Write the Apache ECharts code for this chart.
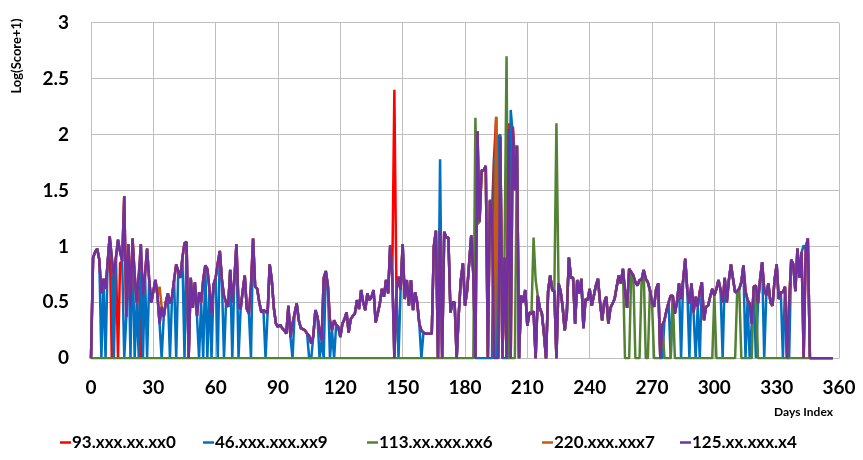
<!DOCTYPE html>
<html><head><meta charset="utf-8">
<script src="https://cdn.jsdelivr.net/npm/echarts@6/dist/echarts.min.js"></script>
<style>html,body{margin:0;padding:0;background:#fff}#c{width:863px;height:460px}</style>
</head><body><div id="c"></div>
<script>
const seriesNames = ['93.xxx.xx.xx0','46.xxx.xxx.xx9','113.xx.xxx.xx6','220.xxx.xxx7','125.xx.xxx.x4'];
const seriesColors = ['#FF0000','#0070C0','#548235','#C55A11','#7030A0'];
const yTitle = 'Log(Score+1)';
const xTitle = 'Days Index';

// daily values, day 0 .. 357
const ip93 = [
0,0.9,0.95,0.98,0.88,0.58,0.71,0.62,0.85,1.09,
0,0.74,0.9,0,0.85,0.87,1.45,0.37,1.02,0.46,
1.07,0.75,0.5,0.75,0,0.56,0.75,0.98,0.7,0.5,
0.6,0.7,0.56,0.31,0.46,0.37,0.5,0.58,0.49,0.55,
0.7,0.84,0.78,0.72,0.9,1.03,1.04,0,0.72,0.45,
0.68,0.38,0.59,0.5,0.7,0.83,0.8,0.62,0.4,0.66,
0.72,0.85,0.96,0.7,0.56,0.5,0.46,0.79,0.5,0.7,
1.02,0.47,0.44,0.6,0.74,0.44,0.4,0.65,1.07,0.64,
0.62,0.5,0.41,0.43,0.42,0.4,0.84,0.7,0.45,0.31,
0.28,0.3,0.27,0.25,0.22,0.47,0.19,0.31,0.4,0.49,
0.34,0.27,0.26,0.25,0.22,0.2,0.13,0.2,0.43,0.37,
0.25,0.16,0.72,0.78,0.65,0.34,0.25,0.34,0.3,0.28,
0.19,0.31,0.35,0.41,0.23,0.35,0.38,0.4,0.52,0.44,
0.61,0.5,0.43,0.58,0.52,0.55,0.61,0.32,0.4,0.49,
0.62,0.55,0.7,0.58,1.01,0.74,2.4,0.6,0.73,0.61,
1.02,0.53,0.7,0.47,0.7,0.43,0.59,0.5,0.31,0.25,
0.23,0.22,0.22,0.22,0.22,1.0,1.14,0,1.14,0,
1.13,1.08,1.08,0.41,0.5,0.5,0,0.4,0.7,0.85,
0.47,0.6,0.85,1.1,0.75,0,2.03,1.22,1.68,1.68,
1.72,0,1.41,1.32,1.8,2.15,0,1.98,0,0.9,
0,2.1,0,2.07,1.8,1.9,0,0.56,0.5,0.61,
0.29,0.41,0.4,0.42,0,0.56,0.45,0.4,0.22,0,
0.6,0.74,0.61,0.6,0,0.67,0.6,0.46,0.25,0.4,
0.9,0.72,0.72,0.31,0.7,0.58,0.71,0.27,0.53,0.52,
0.62,0.47,0.56,0.65,0.71,0.5,0.34,0.5,0.55,0.31,
0.45,0.49,0.53,0.64,0.74,0.67,0.8,0.6,0.45,0.8,
0.77,0.74,0.68,0.65,0.7,0.7,0.79,0.71,0.68,0.61,
0.5,0.46,0.62,0.67,0,0.3,0.34,0.43,0.5,0.56,
0.56,0.4,0.5,0.67,0.53,0.7,0.89,0.6,0.49,0.67,
0.41,0.55,0.46,0.6,0.68,0.34,0.46,0.47,0.55,0.62,
0.56,0.62,0.7,0.61,0.5,0.72,0.5,0.7,0.84,0.71,
0.59,0.6,0.62,0.68,0.83,0.6,0.52,0.49,0.31,0.64,
0.65,0.49,0.7,0.86,0.62,0.56,0.67,0.5,0.47,0.7,
0.84,0.53,0.59,0.59,0.64,0,0.5,0.88,0.84,0.6,
0.98,0.72,0.95,0,0.98,1.07,0,0,0,0,
0,0,0,0,0,0,0,0];

const ip46 = [
0,0.9,0.95,0.98,0.88,0,0.71,0,0.85,1.09,
0.9,0,0.9,1.06,0.95,0.87,0,0.37,1.02,0,
1.07,0,0.5,0,1.02,0,0.75,0,0.7,0.5,
0.6,0.7,0.56,0.31,0,0.37,0.5,0.58,0,0.55,
0.7,0,0.78,0.72,0.9,0,1.04,0,0.72,0.45,
0.68,0.38,0,0.5,0,0.83,0,0.62,0,0.66,
0.72,0,0.96,0.7,0,0.5,0.46,0.79,0,0.7,
1.02,0,0.44,0.6,0.74,0.44,0.4,0,1.07,0.64,
0.62,0.5,0.41,0.43,0,0.4,0.84,0.7,0.45,0.31,
0.28,0.3,0.27,0.25,0.22,0.47,0.19,0,0.4,0.49,
0.34,0.27,0.26,0.25,0.22,0,0,0.2,0.43,0.37,
0,0.16,0,0.78,0.65,0,0.25,0,0.3,0.28,
0.19,0.31,0.35,0.41,0.23,0.35,0.38,0.4,0.52,0.44,
0.61,0.5,0.43,0.58,0.52,0.55,0.61,0.32,0.4,0.49,
0.62,0.55,0.7,0.58,1.01,0.74,0,0.6,0,0.61,
1.02,0.53,0.7,0.47,0.7,0.43,0.59,0.5,0.31,0,
0.23,0.22,0.22,0.22,0.22,1.0,1.14,0,1.78,0,
1.13,1.08,1.08,0.41,0.5,0.5,0,0.4,0.7,0.85,
0.47,0.6,0.85,1.1,0.75,0,0,0,0,0,
0,0,0,0,1.8,0,1.98,2.0,0,0,
0,0,2.22,2.0,1.8,1.9,0,0.56,0.5,0.61,
0.29,0.41,0.4,0.42,0,0.56,0.45,0.4,0.22,0,
0.6,0.74,0.61,0.6,0,0.67,0.6,0.46,0.25,0.4,
0.9,0.72,0.72,0.31,0.7,0.58,0.71,0.27,0.53,0.52,
0.62,0.47,0.56,0.65,0.71,0.5,0.34,0.5,0.55,0.31,
0.45,0.49,0.53,0.64,0.74,0.67,0.8,0.6,0.45,0.8,
0.77,0.74,0.68,0.65,0.7,0.7,0.79,0.71,0.68,0.61,
0.5,0.46,0.62,0.67,0,0,0.34,0.43,0.5,0,
0.56,0.4,0.5,0.67,0,0.7,0.89,0.6,0,0.67,
0.41,0,0.46,0,0.68,0.34,0.46,0.47,0.55,0.62,
0.56,0.62,0.7,0.61,0,0.72,0.5,0.7,0.84,0.71,
0.59,0.6,0.62,0.68,0.83,0,0.52,0,0.31,0.64,
0,0.49,0.7,0.86,0,0.56,0.67,0.5,0.47,0.7,
0.84,0.53,0.59,0,0.64,0,0,0.88,0.84,0.6,
0.98,0.72,0.95,1.01,0.98,1.07,0,0,0,0,
0,0,0,0,0,0,0,0];

const ip113 = [
0,0,0,0,0,0,0,0,0,0,
0,0,0,0,0,0,0,0,0,0,
0,0,0,0,0,0,0,0,0,0,
0,0,0,0,0,0,0,0,0,0,
0,0,0,0,0,0,0,0,0,0,
0,0,0,0,0,0,0,0,0,0,
0,0,0,0,0,0,0,0,0,0,
0,0,0,0,0,0,0,0,0,0,
0,0,0,0,0,0,0,0,0,0,
0,0,0,0,0,0,0,0,0,0,
0,0,0,0,0,0,0,0,0,0,
0,0,0,0,0,0,0,0,0,0,
0,0,0,0,0,0,0,0,0,0,
0,0,0,0,0,0,0,0,0,0,
0,0,0,0,0,0,0,0,0,0,
0,0,0,0,0,0,0,0,0,0,
0,0,0,0,0,0,0,0,0,0,
0,0,0,0,0,0,0,0,0,0,
0,0,0,0,0,2.15,1.2,1.22,1.68,1.68,
1.72,0,1.42,1.32,0,2.16,0,1.98,0,0.9,
2.7,0,0,0,0,1.9,0,0.56,0.5,0.61,
0.29,0.41,0.4,1.08,0.7,0.56,0.45,0.4,0.22,0,
0.6,0.74,0.61,0.6,2.1,0.67,0.6,0.46,0.25,0.4,
0.9,0.72,0.72,0.31,0.7,0.58,0.71,0.27,0.53,0.52,
0.62,0.47,0.56,0.65,0.71,0.5,0.34,0.5,0.55,0.31,
0.45,0.49,0.53,0.64,0.74,0.67,0.8,0,0,0,
0.77,0.74,0,0,0,0.7,0.79,0,0,0.61,
0.5,0,0,0,0,0.3,0,0,0,0,
0.56,0,0,0,0,0,0,0,0,0,
0,0,0,0,0,0,0,0,0,0,
0.56,0,0,0,0,0,0,0,0,0,
0,0.6,0.62,0,0,0,0,0,0,0.64,
0.65,0,0,0,0,0,0,0,0,0,
0,0,0,0,0,0,0,0,0,0,
0,0,0,0,0,0,0,0,0,0,
0,0,0,0,0,0,0,0];

const ip220 = [
0,0.9,0.95,0.98,0.88,0.58,0.71,0.62,0.85,1.09,
0.9,0.74,0.9,1.06,0.95,0.87,1.45,0.37,1.02,0.46,
1.07,0.75,0.5,0.75,1.02,0.56,0.75,0.98,0.7,0.52,
0.6,0.7,0.56,0.64,0.46,0.37,0.5,0.58,0.49,0.55,
0.7,0.84,0.78,0.72,0.9,1.03,1.04,0,0.72,0.45,
0.68,0.38,0.59,0.5,0.7,0.83,0.8,0.62,0.4,0.66,
0.72,0.85,0.96,0.7,0.56,0.5,0.46,0.79,0.5,0.7,
1.02,0.47,0.44,0.6,0.74,0.44,0.4,0.65,1.07,0.64,
0.62,0.5,0.41,0.43,0.42,0.4,0.84,0.7,0.45,0.31,
0.28,0.3,0.27,0.25,0.22,0.47,0.19,0.31,0.4,0.49,
0.34,0.27,0.26,0.25,0.22,0.2,0.13,0.2,0.43,0.37,
0.25,0.16,0.72,0.78,0.65,0.34,0.25,0.34,0.3,0.28,
0.19,0.31,0.35,0.41,0.23,0.35,0.38,0.4,0.52,0.44,
0.61,0.5,0.43,0.58,0.52,0.55,0.61,0.32,0.4,0.49,
0.62,0.55,0.7,0.58,1.01,0.74,0,0.6,0.73,0.61,
1.02,0.53,0.7,0.47,0.7,0.43,0.59,0.5,0.31,0.25,
0.23,0.22,0.22,0.22,0.22,1.0,1.14,0,1.14,0,
1.13,1.08,1.08,0.41,0.5,0.5,0,0.4,0.7,0.85,
0.47,0.6,0.85,1.1,0.75,0,2.03,1.22,1.68,1.68,
1.72,0,1.41,1.32,0,2.16,0,1.98,0,0.9,
0,2.05,0,2.07,1.5,1.9,0,0.56,0.5,0.61,
0.29,0.41,0.4,0.42,0,0.56,0.45,0.4,0.22,0,
0.6,0.74,0.61,0.6,0,0.67,0.6,0.46,0.25,0.4,
0.9,0.72,0.72,0.31,0.7,0.58,0.71,0.27,0.53,0.52,
0.62,0.47,0.56,0.65,0.71,0.5,0.34,0.5,0.55,0.31,
0.45,0.49,0.53,0.64,0.74,0.67,0.8,0.6,0.45,0.8,
0.77,0.74,0.68,0.65,0.7,0.7,0.79,0.71,0.68,0.61,
0.5,0.46,0.62,0.67,0,0.3,0.34,0.43,0.5,0.56,
0.56,0.4,0.5,0.67,0.53,0.7,0.89,0.6,0.49,0.67,
0.41,0.55,0.46,0.6,0.68,0.34,0.46,0.47,0.55,0.62,
0.56,0.62,0.7,0.61,0.5,0.72,0.5,0.7,0.84,0.71,
0.59,0.6,0.62,0.68,0.83,0.6,0.52,0.49,0.31,0.64,
0.65,0.49,0.7,0.86,0.62,0.56,0.67,0.5,0.47,0.7,
0.84,0.53,0.59,0.59,0.64,0,0.5,0.88,0.84,0.6,
0.98,0.72,0.95,0,0.98,1.07,0,0,0,0,
0,0,0,0,0,0,0,0];

const ip125 = [
0,0.9,0.95,0.98,0.88,0.58,0.71,0.62,0.85,1.09,
0.9,0.74,0.9,1.06,0.95,0.87,1.45,0.37,1.02,0.46,
1.07,0.75,0.5,0.75,1.02,0.56,0.75,0.98,0.7,0.5,
0.6,0.7,0.56,0.31,0.46,0.37,0.5,0.58,0.49,0.55,
0.7,0.84,0.78,0.72,0.9,1.03,1.04,0,0.72,0.45,
0.68,0.38,0.59,0.5,0.7,0.83,0.8,0.62,0.4,0.66,
0.72,0.85,0.96,0.7,0.56,0.5,0.46,0.79,0.5,0.7,
1.02,0.47,0.44,0.6,0.74,0.44,0.4,0.65,1.07,0.64,
0.62,0.5,0.41,0.43,0.42,0.4,0.84,0.7,0.45,0.31,
0.28,0.3,0.27,0.25,0.22,0.47,0.19,0.31,0.4,0.49,
0.34,0.27,0.26,0.25,0.22,0.2,0.13,0.2,0.43,0.37,
0.25,0.16,0.72,0.78,0.65,0.34,0.25,0.34,0.3,0.28,
0.19,0.31,0.35,0.41,0.23,0.35,0.38,0.4,0.52,0.44,
0.61,0.5,0.43,0.58,0.52,0.55,0.61,0.32,0.4,0.49,
0.62,0.55,0.7,0.58,1.01,0.74,0,0.6,0.73,0.61,
1.02,0.53,0.7,0.47,0.7,0.43,0.59,0.5,0.31,0.25,
0.23,0.22,0.22,0.22,0.22,1.0,1.14,0,1.14,0,
1.13,1.08,1.08,0.41,0.5,0.5,0,0.4,0.7,0.85,
0.47,0.6,0.85,1.1,0.75,0,2.03,1.22,1.68,1.68,
1.72,0,1.41,1.32,0,0,0,1.98,0,0.9,
0,2.05,0,2.07,1.5,1.9,0,0.56,0.5,0.61,
0.29,0.41,0.4,0.42,0,0.56,0.45,0.4,0.22,0,
0.6,0.74,0.61,0.6,0,0.67,0.6,0.46,0.25,0.4,
0.9,0.72,0.72,0.31,0.7,0.58,0.71,0.27,0.53,0.52,
0.62,0.47,0.56,0.65,0.71,0.5,0.34,0.5,0.55,0.31,
0.45,0.49,0.53,0.64,0.74,0.67,0.8,0.6,0.45,0.8,
0.77,0.74,0.68,0.65,0.7,0.7,0.79,0.71,0.68,0.61,
0.5,0.46,0.62,0.67,0,0.3,0.34,0.43,0.5,0.56,
0.56,0.4,0.5,0.67,0.53,0.7,0.89,0.6,0.49,0.67,
0.41,0.55,0.46,0.6,0.68,0.34,0.46,0.47,0.55,0.62,
0.56,0.62,0.7,0.61,0.5,0.72,0.5,0.7,0.84,0.71,
0.59,0.6,0.62,0.68,0.83,0.6,0.52,0.49,0.31,0.64,
0.65,0.49,0.7,0.86,0.62,0.56,0.67,0.5,0.47,0.7,
0.84,0.53,0.59,0.59,0.64,0,0.5,0.88,0.84,0.6,
0.98,0.72,0.95,0,0.98,1.07,0,0,0,0,
0,0,0,0,0,0,0,0];

const allValues = [ip93, ip46, ip113, ip220, ip125];
const legendLeft = [60, 203, 367, 542, 680];

const chart = echarts.init(document.getElementById('c'), null, {renderer:'canvas'});
const FONT = 'Lato';
const grid = '#BFBFBF';

const series = allValues.map((vals, k) => ({
  name: seriesNames[k],
  type: 'line',
  data: vals.map((v, i) => [i, v]),
  symbol: 'none',
  smooth: false,
  lineStyle: { color: seriesColors[k], width: 2.5 },
  itemStyle: { color: seriesColors[k] },
  z: 2 + k
}));

const legends = seriesNames.map((n, k) => ({
  data: [n],
  left: legendLeft[k],
  top: 434,
  icon: 'rect',
  itemWidth: 11,
  itemHeight: 2.5,
  itemGap: 0,
  padding: 0,
  textStyle: { fontFamily: FONT, fontWeight: 'bold', fontSize: 17, color: '#000', padding: [0,0,0,-4] }
}));

chart.setOption({
  animation: false,
  backgroundColor: '#fff',
  grid: { left: 91, right: 24, top: 22.7, bottom: 101.7, containLabel: false },
  xAxis: {
    type: 'value', min: 0, max: 360, interval: 30,
    axisLine: { show: true, lineStyle: { color: grid, width: 1 } },
    axisTick: { show: false },
    axisLabel: { margin: 20, fontFamily: FONT, fontWeight: 'bold', fontSize: 19, color: '#000' },
    splitLine: { show: true, lineStyle: { color: grid, width: 1 } }
  },
  yAxis: {
    type: 'value', min: 0, max: 3, interval: 0.5,
    axisLine: { show: true, lineStyle: { color: grid, width: 1 } },
    axisTick: { show: false },
    axisLabel: { margin: 22, fontFamily: FONT, fontWeight: 'bold', fontSize: 19, color: '#000' },
    splitLine: { show: true, lineStyle: { color: grid, width: 1 } }
  },
  legend: legends,
  graphic: [
    { type: 'text', x: 17, y: 56, rotation: Math.PI / 2,
      style: { text: yTitle, fontFamily: FONT, fontWeight: 'bold', fontSize: 13, fill: '#000', align: 'center', verticalAlign: 'middle' } },
    { type: 'text', x: 833, y: 412,
      style: { text: xTitle, fontFamily: FONT, fontWeight: 'bold', fontSize: 12, fill: '#000', align: 'right', verticalAlign: 'middle' } }
  ],
  series: series
});
</script>
</body></html>
